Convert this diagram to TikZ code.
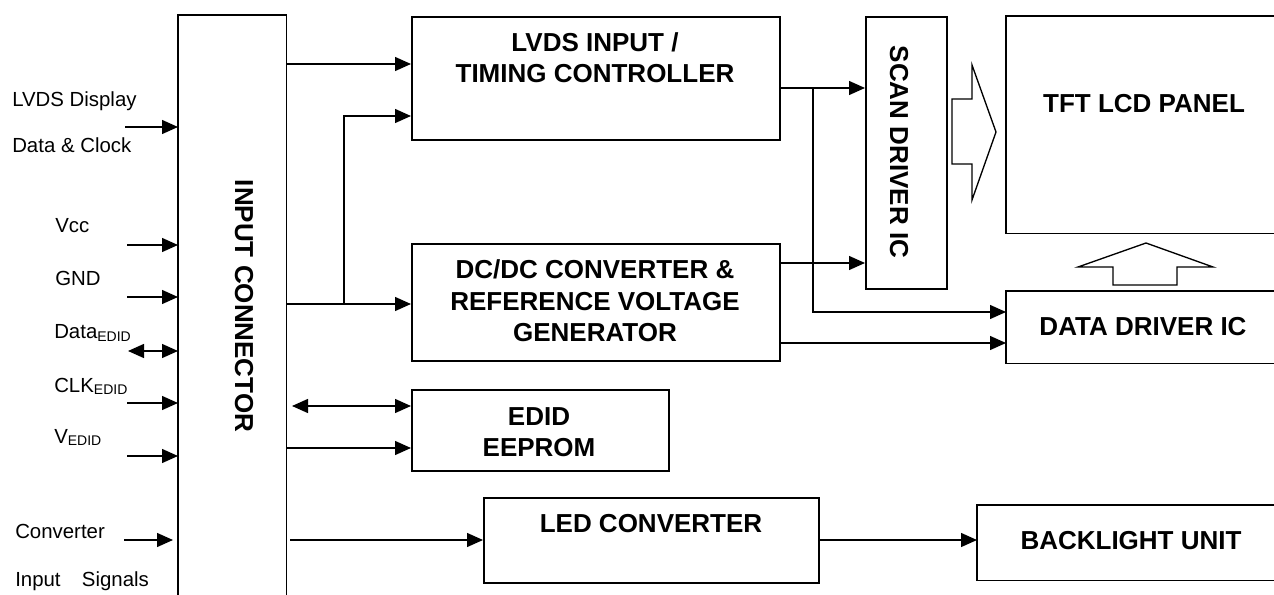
\documentclass[tikz,border=0pt]{standalone}
\usepackage{fontspec}
\setmainfont{Liberation Sans}
\usetikzlibrary{arrows.meta}
\newcommand{\edidsub}{\raisebox{-2pt}{\fontsize{10.5pt}{12pt}\selectfont EDID}}
\begin{document}
\begin{tikzpicture}[x=0.75pt,y=-0.75pt,
  box/.style={draw, line width=1.4pt, inner sep=0pt, anchor=north west},
  openbox/.style={inner sep=0pt, anchor=north west},
  boxline/.style={line width=1.4pt},
  lbl/.style={font=\fontsize{15.3pt}{18pt}\selectfont, inner sep=0pt, anchor=base west},
  btxt/.style={font=\fontsize{19.5pt}{23.5pt}\selectfont\bfseries, inner sep=0pt, align=center},
  arr/.style={line width=1pt, -{Triangle[length=12pt,width=10.5pt]}},
  darr/.style={line width=1pt, {Triangle[length=12pt,width=10.5pt]}-{Triangle[length=12pt,width=10.5pt]}},
  hollow/.style={draw, line width=1pt, fill=white, line join=miter}]
\useasboundingbox (0,0) rectangle (1274,595);

% boxes
\node[openbox, minimum width=81pt, minimum height=435pt] (conn) at (178,15) {};
\draw[boxline] (conn.south west) -- (conn.north west) -- (conn.north east) -- (conn.south east);
\node[box, minimum width=276pt, minimum height=92.25pt] (lvds) at (411,16) {};
\node[box, minimum width=276pt, minimum height=87.75pt] (dcdc) at (411,243) {};
\node[box, minimum width=192.75pt, minimum height=60.75pt] (edid) at (411,389) {};
\node[box, minimum width=251.25pt, minimum height=63.75pt] (led) at (483,497) {};
\node[box, minimum width=60.75pt, minimum height=204pt] (scan) at (865,16) {};
\node[openbox, minimum width=201pt, minimum height=162.75pt] (tft) at (1006,16) {};
\draw[boxline] (tft.north east) -- (tft.north west) -- (tft.south west) -- (tft.south east);
\node[openbox, minimum width=201pt, minimum height=54pt] (ddrv) at (1006,291) {};
\draw[boxline] (ddrv.north east) -- (ddrv.north west) -- (ddrv.south west) -- (ddrv.south east);
\node[openbox, minimum width=222.75pt, minimum height=56.25pt] (blu) at (977,505) {};
\draw[boxline] (blu.north east) -- (blu.north west) -- (blu.south west) -- (blu.south east);

% box texts
\node[btxt] (lvdst) at (595,58) {LVDS INPUT /\\TIMING CONTROLLER};
\node[btxt] (dcdct) at (595,301) {DC/DC CONVERTER \&\\REFERENCE VOLTAGE\\GENERATOR};
\node[btxt] (edidt) at (539,432) {EDID\\EEPROM};
\node[btxt] (ledt) at (651,524) {LED CONVERTER};
\node[btxt, rotate=-90] (connt) at (244,306) {INPUT CONNECTOR};
\node[btxt, rotate=-90] (scant) at (899,152) {SCAN DRIVER IC};
\node[btxt] (tftt) at (1144,104) {TFT LCD PANEL};
\node[btxt] (ddrvt) at (1143,327) {DATA DRIVER IC};
\node[btxt] (blut) at (1131,541) {BACKLIGHT UNIT};

% left labels
\node[lbl] (l1) at (12,107) {LVDS Display};
\node[lbl] (l2) at (12,153) {Data \& Clock};
\node[lbl] (l3) at (55,233) {Vcc};
\node[lbl] (l4) at (55,286) {GND};
\node[lbl] (l5) at (54,339) {Data\edidsub};
\node[lbl] (l6) at (54,392) {CLK\edidsub};
\node[lbl] (l7) at (54,443) {V\edidsub};
\node[lbl] (l8) at (15,538) {Converter};
\node[lbl] (l9) at (15,586) {Input\hspace{16pt}Signals};

% left input arrows
\coordinate (i1) at (125,127);
\coordinate (i2) at (127,245);
\coordinate (i3) at (127,297);
\coordinate (i4) at (128,351);
\coordinate (i5) at (127,403);
\coordinate (i6) at (127,456);
\coordinate (i7) at (124,540);
\draw[arr] (i1) -- (conn.west |- i1);
\draw[arr] (i2) -- (conn.west |- i2);
\draw[arr] (i3) -- (conn.west |- i3);
\draw[darr] (i4) -- (conn.west |- i4);
\draw[arr] (i5) -- (conn.west |- i5);
\draw[arr] (i6) -- (conn.west |- i6);
\draw[arr, shorten >=3.75pt] (i7) -- (conn.west |- i7);

% connector outputs
\draw[arr] (conn.east |- 0,64) -- (lvds.west |- 0,64);
\coordinate (j1) at (344,304);
\draw[arr] (conn.east |- j1) -- (dcdc.west |- j1);
\draw[arr] (j1) |- (lvds.west |- 0,116);
\coordinate (e1) at (292,406);
\draw[darr] (e1) -- (edid.west |- e1);
\draw[arr] (conn.east |- 0,448) -- (edid.west |- 0,448);
\coordinate (c1) at (290,540);
\draw[arr] (c1) -- (led.west |- c1);
\draw[arr] (led.east |- c1) -- (blu.west |- c1);

% timing / dcdc outputs
\coordinate (j2) at (813,88);
\draw[arr] (lvds.east |- j2) -- (scan.west |- j2);
\draw[arr] (j2) |- (ddrv.west |- 0,312);
\draw[arr] (dcdc.east |- 0,263) -- (scan.west |- 0,263);
\draw[arr] (dcdc.east |- 0,343) -- (ddrv.west |- 0,343);

% hollow arrows
\draw[hollow] (952,99) -- (972,99) -- (972,65) -- (996,132) -- (972,200) -- (972,164) -- (952,164) -- cycle;
\draw[hollow] (1113,285) -- (1113,267) -- (1078,267) -- (1146,243) -- (1213,267) -- (1177,267) -- (1177,285) -- cycle;
\end{tikzpicture}
\end{document}
